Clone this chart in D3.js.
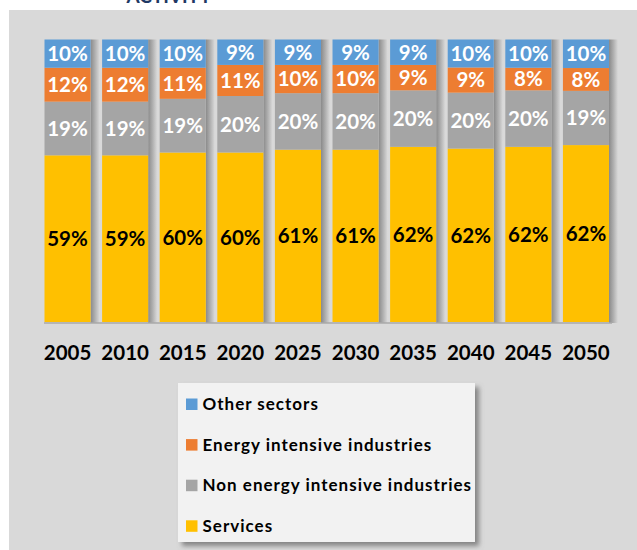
<!DOCTYPE html>
<html><head><meta charset="utf-8">
<script src="https://cdn.jsdelivr.net/npm/d3@7"></script>
<style>html,body{margin:0;padding:0;background:#fff;}svg{display:block;}</style>
</head><body>
<script>
const years = ["2005","2010","2015","2020","2025","2030","2035","2040","2045","2050"];
const seriesNames = ["Services","Non energy intensive industries","Energy intensive industries","Other sectors"];
const services   = [59,59,60,60,61,61,62,62,62,62];
const nonEnergy  = [19,19,19,20,20,20,20,20,20,19];
const energyInt  = [12,12,11,11,10,10,9,9,8,8];
const other      = [10,10,10,9,9,9,9,10,10,10];
const colors = ["#ffc000","#a5a5a5","#ed7d31","#5b9bd5"];
const labelColors = ["#000","#fff","#fff","#fff"];
const legendOrder = ["Other sectors","Energy intensive industries","Non energy intensive industries","Services"];

const W = 637, H = 550;
const svg = d3.select("body").append("svg").attr("width", W).attr("height", H);
const defs = svg.append("defs");
const g1 = defs.append("linearGradient").attr("id","shd").attr("x1","0").attr("x2","1");
g1.append("stop").attr("offset","0").attr("stop-color","#8a8a8a");
g1.append("stop").attr("offset","0.5").attr("stop-color","#b0b0b0");
g1.append("stop").attr("offset","1").attr("stop-color","#d9d9d9");
const f = defs.append("filter").attr("id","ls").attr("x","-10%").attr("y","-10%").attr("width","130%").attr("height","130%");
f.append("feDropShadow").attr("dx",4).attr("dy",4).attr("stdDeviation",2.5).attr("flood-color","#707070").attr("flood-opacity",0.8);

// title fragment (cropped at top, as in the reference)
svg.append("text").attr("x",169).attr("y",3).attr("text-anchor","middle")
  .attr("font-family","Lato").attr("font-weight","bold").attr("font-size",19)
  .attr("fill","#1f3864").text("ACTIVITY");

// background panel
svg.append("rect").attr("x",9).attr("y",10).attr("width",W-9).attr("height",H-10).attr("fill","#d9d9d9");

const data = years.map((y,i)=>({year:y,
  "Services":services[i],"Non energy intensive industries":nonEnergy[i],
  "Energy intensive industries":energyInt[i],"Other sectors":other[i]}));
const stack = d3.stack().keys(seriesNames).offset(d3.stackOffsetExpand);
const series = stack(data);

const x = d3.scaleBand().domain(years).range([44.5,609]).paddingInner(0.2).paddingOuter(0);
const y = d3.scaleLinear().domain([0,1]).range([322,39.5]);

// shadows
svg.append("g").selectAll("rect").data(years).join("rect")
  .attr("x", d=>x(d)+x.bandwidth()).attr("y", y(1)).attr("width", 9).attr("height", y(0)-y(1)+1)
  .attr("fill","url(#shd)");
svg.append("line").attr("x1",44).attr("x2",612).attr("y1",323).attr("y2",323)
  .attr("stroke","#a8a8a8").attr("stroke-width",1.5);

const gs = svg.append("g").selectAll("g").data(series).join("g")
  .attr("fill",(d,i)=>colors[i]);
gs.selectAll("rect").data(d=>d).join("rect")
  .attr("x", d=>x(d.data.year)).attr("width", x.bandwidth())
  .attr("y", d=>y(d[1])).attr("height", d=>y(d[0])-y(d[1]));

const lg = svg.append("g").selectAll("g").data(series).join("g")
  .attr("fill",(d,i)=>labelColors[i]);
lg.selectAll("text").data(d=>d.map(v=>({v, key:d.key}))).join("text")
  .attr("x", d=>x(d.v.data.year)+x.bandwidth()/2)
  .attr("y", d=>(y(d.v[0])+y(d.v[1]))/2)
  .attr("dy","0.36em").attr("text-anchor","middle")
  .attr("font-family","Lato").attr("font-weight","bold").attr("font-size",20.5)
  .text(d=>d.v.data[d.key]+"%");

// x axis labels
const xa = svg.append("g").attr("transform","translate(0,360)")
  .call(d3.axisBottom(x).tickSize(0).tickPadding(0));
xa.select(".domain").remove();
xa.selectAll("text").attr("font-family","Lato").attr("font-weight","bold")
  .attr("font-size",20.5).attr("fill","#000").attr("y",0).attr("dy",0);

// legend
svg.append("rect").attr("x",178).attr("y",383).attr("width",297).attr("height",159)
  .attr("fill","#f2f2f2").attr("filter","url(#ls)");
const li = svg.append("g").selectAll("g").data(legendOrder).join("g")
  .attr("transform",(d,i)=>`translate(186,${404+i*40.6})`);
li.append("rect").attr("x",0).attr("y",-5.5).attr("width",11.5).attr("height",11.5)
  .attr("fill",d=>colors[seriesNames.indexOf(d)]);
li.append("text").attr("x",16.5).attr("y",0).attr("dy","0.36em")
  .attr("font-family","Lato").attr("font-weight","bold").attr("font-size",17)
  .attr("letter-spacing","1px").attr("fill","#000")
  .text(d=>d);
</script>
</body></html>
